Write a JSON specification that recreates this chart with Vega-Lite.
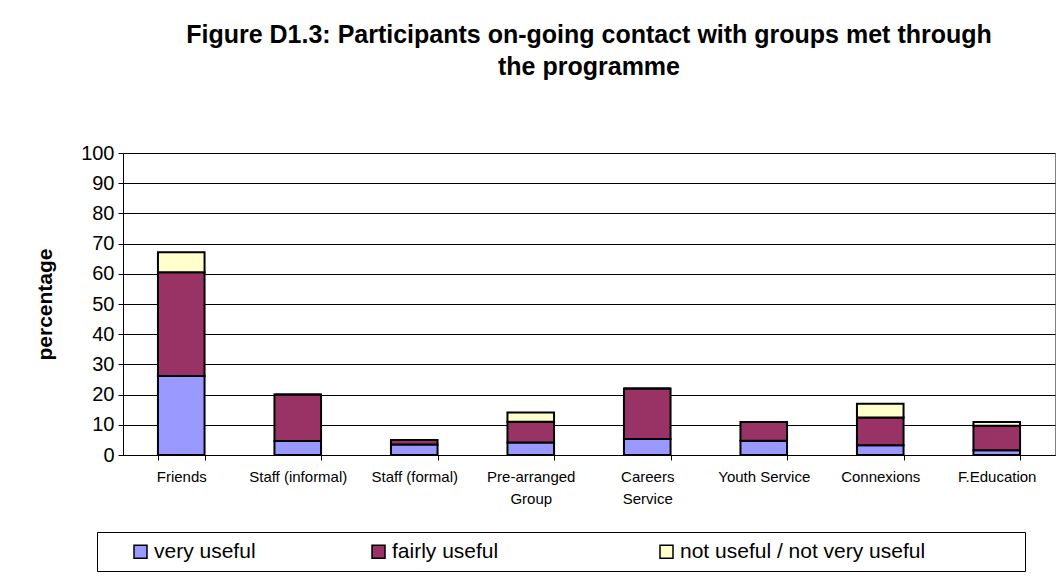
{
  "$schema": "https://vega.github.io/schema/vega-lite/v6.json",
  "width": 932,
  "height": 302,
  "autosize": {"type": "none"},
  "padding": {"left": 123, "top": 153, "right": 9, "bottom": 123},
  "background": "white",
  "title": {
    "text": ["Figure D1.3: Participants on-going contact with groups met through", "the programme"],
    "font": "Liberation Sans",
    "fontSize": 25,
    "fontWeight": "bold",
    "color": "black",
    "anchor": "middle",
    "lineHeight": 32,
    "offset": 63
  },
  "data": {
    "values": [
      {"group": "Friends", "rating": "very useful", "rank": 1, "value": 26.2},
      {"group": "Friends", "rating": "fairly useful", "rank": 2, "value": 34.3},
      {"group": "Friends", "rating": "not useful / not very useful", "rank": 3, "value": 6.6},
      {"group": "Staff (informal)", "rating": "very useful", "rank": 1, "value": 4.6},
      {"group": "Staff (informal)", "rating": "fairly useful", "rank": 2, "value": 15.4},
      {"group": "Staff (informal)", "rating": "not useful / not very useful", "rank": 3, "value": 0},
      {"group": "Staff (formal)", "rating": "very useful", "rank": 1, "value": 3.5},
      {"group": "Staff (formal)", "rating": "fairly useful", "rank": 2, "value": 1.5},
      {"group": "Staff (formal)", "rating": "not useful / not very useful", "rank": 3, "value": 0},
      {"group": "Pre-arranged Group", "rating": "very useful", "rank": 1, "value": 4.1},
      {"group": "Pre-arranged Group", "rating": "fairly useful", "rank": 2, "value": 6.9},
      {"group": "Pre-arranged Group", "rating": "not useful / not very useful", "rank": 3, "value": 3.1},
      {"group": "Careers Service", "rating": "very useful", "rank": 1, "value": 5.3},
      {"group": "Careers Service", "rating": "fairly useful", "rank": 2, "value": 16.7},
      {"group": "Careers Service", "rating": "not useful / not very useful", "rank": 3, "value": 0},
      {"group": "Youth Service", "rating": "very useful", "rank": 1, "value": 4.7},
      {"group": "Youth Service", "rating": "fairly useful", "rank": 2, "value": 6.2},
      {"group": "Youth Service", "rating": "not useful / not very useful", "rank": 3, "value": 0},
      {"group": "Connexions", "rating": "very useful", "rank": 1, "value": 3.2},
      {"group": "Connexions", "rating": "fairly useful", "rank": 2, "value": 9.2},
      {"group": "Connexions", "rating": "not useful / not very useful", "rank": 3, "value": 4.6},
      {"group": "F.Education", "rating": "very useful", "rank": 1, "value": 1.6},
      {"group": "F.Education", "rating": "fairly useful", "rank": 2, "value": 8.1},
      {"group": "F.Education", "rating": "not useful / not very useful", "rank": 3, "value": 1.2}
    ]
  },
  "mark": {"type": "bar", "stroke": "black", "strokeWidth": 2, "opacity": 1},
  "encoding": {
    "x": {
      "field": "group",
      "type": "nominal",
      "sort": ["Friends", "Staff (informal)", "Staff (formal)", "Pre-arranged Group", "Careers Service", "Youth Service", "Connexions", "F.Education"],
      "scale": {"paddingInner": 0.6, "paddingOuter": 0.3},
      "axis": {
        "title": null,
        "labelAngle": 0,
        "labelFont": "Liberation Sans",
        "labelFontSize": 15,
        "labelColor": "black",
        "labelPadding": 9,
        "labelLineHeight": 22,
        "labelExpr": "datum.label == 'Pre-arranged Group' ? ['Pre-arranged', 'Group'] : datum.label == 'Careers Service' ? ['Careers', 'Service'] : datum.label",
        "tickBand": "extent",
        "tickColor": "black",
        "tickSize": 5,
        "domainColor": "black",
        "domainWidth": 1,
        "grid": false
      }
    },
    "y": {
      "field": "value",
      "type": "quantitative",
      "stack": "zero",
      "scale": {"domain": [0, 100], "nice": false},
      "axis": {
        "title": "percentage",
        "titleFont": "Liberation Sans",
        "titleFontSize": 21,
        "titleFontWeight": "bold",
        "titleColor": "black",
        "titlePadding": 25,
        "values": [0, 10, 20, 30, 40, 50, 60, 70, 80, 90, 100],
        "labelFont": "Liberation Sans",
        "labelFontSize": 20,
        "labelColor": "black",
        "labelPadding": 4,
        "tickColor": "black",
        "tickSize": 5,
        "domainColor": "black",
        "gridColor": "black",
        "gridWidth": 1
      }
    },
    "order": {"field": "rank", "type": "quantitative"},
    "color": {
      "field": "rating",
      "type": "nominal",
      "sort": ["very useful", "fairly useful", "not useful / not very useful"],
      "scale": {
        "domain": ["very useful", "fairly useful", "not useful / not very useful"],
        "range": ["#9999FF", "#993366", "#FFFFCC"]
      },
      "legend": {
        "orient": "none",
        "legendX": -26,
        "legendY": 379,
        "direction": "horizontal",
        "title": "\u2800",
        "titleOrient": "left",
        "titleFont": "Liberation Sans",
        "titleFontSize": 21,
        "titlePadding": 9,
        "strokeColor": "black",
        "fillColor": "white",
        "padding": 9,
        "symbolType": "square",
        "symbolSize": 169,
        "symbolStrokeColor": "black",
        "symbolStrokeWidth": 1.5,
        "symbolOpacity": 1,
        "labelFont": "Liberation Sans",
        "labelFontSize": 21,
        "labelColor": "black",
        "labelOffset": 3,
        "labelLimit": 600,
        "labelExpr": "datum.label == 'fairly useful' ? 'fairly useful\u2800\u2800\u2800' : datum.label == 'not useful / not very useful' ? 'not useful / not very useful\u2800\u2800\u2800\u2800\u2800\u2800' : datum.label",
        "columnPadding": 112
      }
    }
  },
  "config": {
    "view": {"stroke": "#808080", "strokeWidth": 1}
  }
}
